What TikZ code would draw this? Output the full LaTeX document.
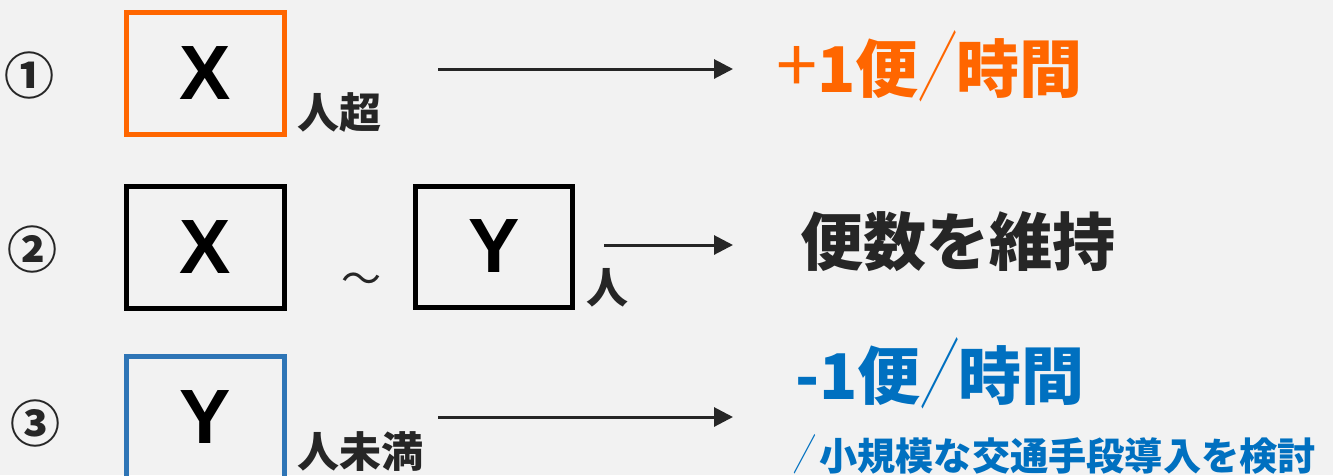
\documentclass[tikz,border=0pt]{standalone}
\usepackage{fontspec}
\usepackage{graphicx}
\setmainfont{Noto Sans CJK JP}
\newfontfamily\latin{Liberation Sans}
\usetikzlibrary{arrows.meta}
\definecolor{bg}{HTML}{F2F2F2}
\definecolor{ink}{HTML}{262626}
\definecolor{up}{HTML}{FF6600}
\definecolor{down}{HTML}{0070C0}
\definecolor{downbox}{HTML}{2E75B6}
\newcommand\slashsep{\makebox[38pt]{\raisebox{-3pt}{\scalebox{0.62}[1.22]{\mdseries ／}}}}

\begin{document}
\begin{tikzpicture}[x = 1pt, y = -1pt,
  box/.style = {draw, line width = 5pt, minimum width = 158pt, minimum height = 122pt, inner sep = 0pt,
    font = \latin\bfseries\fontsize{77}{77}\selectfont},
  num/.style = {text = ink, inner sep = 0pt, font = \bfseries\fontsize{50}{50}\selectfont},
  unit/.style = {anchor = west, text = ink, inner sep = 0pt, font = \bfseries\fontsize{42}{42}\selectfont},
  result/.style = {anchor = west, inner sep = 0pt, font = \bfseries\fontsize{63}{63}\selectfont},
  flow/.style = {draw = ink, line width = 3pt, -{Triangle[length = 19pt, width = 19pt]}}]

\fill [bg] (0,0) rectangle (1333,475);
\useasboundingbox (0,0) rectangle (1333,475);

\node [num] (n1) at (30,75) {①};
\node [num] (n2) at (33,249) {②};
\node [num] (n3) at (35,423) {③};

\node [box, draw = up] (over) at (205.5,73.5) {X};
\node [unit] (overunit) at (297,113) {人超};
\coordinate (f1s) at (438,69);
\coordinate (f1e) at (733,69);
\draw [flow] (f1s) -- (f1e);
\node [result, text = up] (plus) at (776,66) {{\mdseries\fontsize{74}{74}\selectfont +}1便\slashsep 時間};

\node [box] (lower) at (205.5,247) {X};
\node [anchor = west, text = ink, inner sep = 0pt, font = \fontsize{40}{40}\selectfont] (tilde) at (341,283) {～};
\node [box, minimum width = 157pt, minimum height = 121pt] (upper) at (494,246.5) {Y};
\node [unit] (midunit) at (586,288) {人};
\coordinate (f2s) at (604,245);
\coordinate (f2e) at (733,245);
\draw [flow] (f2s) -- (f2e);
\node [result, text = ink] (keep) at (800,242) {便数を維持};

\node [box, draw = downbox] (under) at (205.5,417) {Y};
\node [unit] (underunit) at (297,452) {人未満};
\coordinate (f3s) at (438,417);
\coordinate (f3e) at (733,417);
\draw [flow] (f3s) -- (f3e);
\node [result, text = down] (minus) at (795,373) {-1便\slashsep 時間};
\node [anchor = west, text = down, inner sep = 0pt, font = \bfseries\fontsize{38.2}{38.2}\selectfont] (alt) at (790,454)
  {\makebox[29pt]{\scalebox{0.6}[1.12]{\mdseries ／}}小規模な交通手段導入を検討};

\end{tikzpicture}
\end{document}
